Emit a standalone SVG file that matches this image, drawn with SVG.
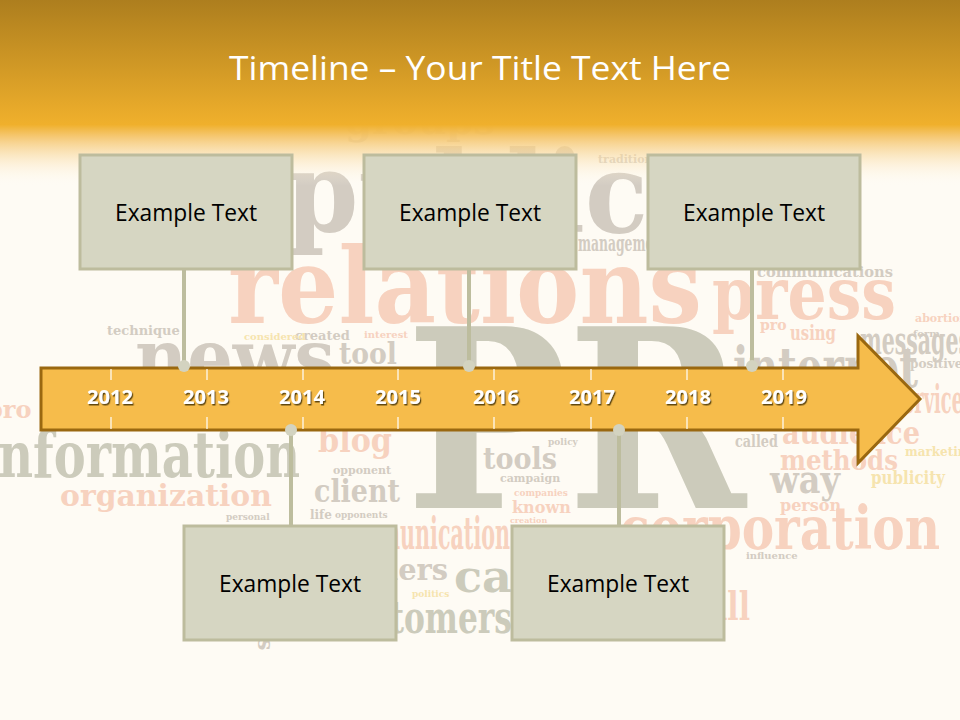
<svg xmlns="http://www.w3.org/2000/svg" width="960" height="720" viewBox="0 0 960 720">
<defs>
<linearGradient id="hdr" x1="0" y1="0" x2="0" y2="1">
<stop offset="0" stop-color="#AD7E1E"/>
<stop offset="0.67" stop-color="#F0B02C"/>
<stop offset="0.74" stop-color="#F5C66E" stop-opacity="0.92"/>
<stop offset="1" stop-color="#FFFBF3" stop-opacity="0"/>
</linearGradient>
<filter id="sh" x="-20%" y="-20%" width="140%" height="150%">
<feDropShadow dx="1.2" dy="1.5" stdDeviation="0.6" flood-color="#3a2a00" flood-opacity="0.8"/>
</filter>
<style>
.wc{font-family:"DejaVu Serif",serif;font-weight:bold}
.g{fill:#D3CCC2}
.g2{fill:#CCCBBB}
.s{fill:#F7D2BF}
.y{fill:#F6E4AE}
.box{fill:#D6D6C2;stroke:#BDBC9D;stroke-width:3}
.bt{font-family:"Open Sans","Liberation Sans",sans-serif;font-size:23px;fill:#000;text-anchor:middle}
.yr{font-family:"Open Sans","Liberation Sans",sans-serif;font-size:19px;font-weight:bold;fill:#FFFFFF;text-anchor:middle;filter:url(#sh)}
.tick{stroke:#FFFFFF;stroke-width:1.2}
.ln{stroke:#BDBD9E;stroke-width:4;fill:none}
.dot{fill:#D3D3C0}
</style>
</defs>
<rect x="0" y="0" width="960" height="720" fill="#FEFBF4"/>
<g id="wordcloud" class="wc">
<text x="345" y="134" font-size="40" class="g" textLength="150" lengthAdjust="spacingAndGlyphs">groups</text>
<text x="598" y="163" font-size="11" class="g">traditional</text>
<text x="286" y="232" font-size="112" class="g" textLength="362" lengthAdjust="spacingAndGlyphs">public</text>
<text x="578" y="251" font-size="22" class="g" textLength="90" lengthAdjust="spacingAndGlyphs">management</text>
<text x="228" y="323" font-size="104" class="s" textLength="474" lengthAdjust="spacingAndGlyphs">relations</text>
<text x="712" y="319" font-size="72" class="s" textLength="184" lengthAdjust="spacingAndGlyphs">press</text>
<text x="757" y="277" font-size="14" class="g" textLength="136" lengthAdjust="spacingAndGlyphs">communications</text>
<text x="107" y="335" font-size="13" class="g">technique</text>
<text x="295" y="340" font-size="13" class="g">created</text>
<text x="244" y="340" font-size="10" class="y">considered</text>
<text x="364" y="338" font-size="10" class="s">interest</text>
<text x="135" y="384" font-size="76" class="g" textLength="200" lengthAdjust="spacingAndGlyphs">news</text>
<text x="339" y="364" font-size="30" class="g" textLength="58" lengthAdjust="spacingAndGlyphs">tool</text>
<text x="790" y="340" font-size="20" class="s" textLength="46" lengthAdjust="spacingAndGlyphs">using</text>
<text x="760" y="330" font-size="14" class="s">pro</text>
<text x="860" y="354" font-size="40" class="g" textLength="110" lengthAdjust="spacingAndGlyphs">messages</text>
<text x="733" y="387" font-size="56" class="g" textLength="185" lengthAdjust="spacingAndGlyphs">internet</text>
<text x="910" y="368" font-size="12" class="g">positive</text>
<text x="893" y="413" font-size="40" class="s" textLength="80" lengthAdjust="spacingAndGlyphs">services</text>
<text x="-14" y="418" font-size="24" class="s">pro</text>
<text x="406" y="508" font-size="250" class="g2" textLength="340" lengthAdjust="spacingAndGlyphs" fill="#CBC7BB">PR</text>
<text x="-20" y="477" font-size="64" class="g2" textLength="320" lengthAdjust="spacingAndGlyphs">information</text>
<text x="60" y="506" font-size="30" class="s" textLength="212" lengthAdjust="spacingAndGlyphs">organization</text>
<text x="226" y="520" font-size="9" class="g">personal</text>
<text x="318" y="452" font-size="34" class="s" textLength="74" lengthAdjust="spacingAndGlyphs">blog</text>
<text x="333" y="474" font-size="11" class="g">opponent</text>
<text x="314" y="502" font-size="32" class="g" textLength="86" lengthAdjust="spacingAndGlyphs">client</text>
<text x="310" y="519" font-size="12" class="g">life</text>
<text x="335" y="518" font-size="9" class="g">opponents</text>
<text x="483" y="469" font-size="30" class="g" textLength="74" lengthAdjust="spacingAndGlyphs">tools</text>
<text x="548" y="445" font-size="9" class="g">policy</text>
<text x="500" y="482" font-size="11" class="g">campaign</text>
<text x="514" y="496" font-size="9" class="s">companies</text>
<text x="512" y="513" font-size="16" class="s">known</text>
<text x="510" y="523" font-size="8" class="s">creation</text>
<text x="330" y="549" font-size="44" class="s" textLength="180" lengthAdjust="spacingAndGlyphs" fill="#F8D8C0">communication</text>
<text x="330" y="580" font-size="30" class="g" textLength="118" lengthAdjust="spacingAndGlyphs">leaders</text>
<text x="412" y="597" font-size="9" class="y">politics</text>
<text x="454" y="592" font-size="44" class="g2" textLength="58" lengthAdjust="spacingAndGlyphs">ca</text>
<text x="330" y="633" font-size="44" class="g2" textLength="182" lengthAdjust="spacingAndGlyphs">customers</text>
<text x="258" y="662" font-size="22" class="g" transform="rotate(90 270 650)">s</text>
<text x="708" y="620" font-size="40" class="s" textLength="42" lengthAdjust="spacingAndGlyphs">all</text>
<text x="620" y="549" font-size="60" class="s" textLength="320" lengthAdjust="spacingAndGlyphs">corporation</text>
<text x="746" y="559" font-size="10" class="g">influence</text>
<text x="735" y="447" font-size="17" class="g" textLength="43" lengthAdjust="spacingAndGlyphs">called</text>
<text x="782" y="444" font-size="32" class="s" textLength="138" lengthAdjust="spacingAndGlyphs">audience</text>
<text x="780" y="470" font-size="28" class="s" textLength="118" lengthAdjust="spacingAndGlyphs">methods</text>
<text x="905" y="456" font-size="12" class="y">marketing</text>
<text x="770" y="493" font-size="40" class="g" textLength="70" lengthAdjust="spacingAndGlyphs">way</text>
<text x="871" y="484" font-size="18" class="y" textLength="74" lengthAdjust="spacingAndGlyphs">publicity</text>
<text x="780" y="511" font-size="16" class="s">person</text>
<text x="915" y="322" font-size="11" class="s">abortion</text>
<text x="913" y="337" font-size="10" class="g">form</text>
</g>
<rect id="header" x="0" y="0" width="960" height="186" fill="url(#hdr)"/>
<text id="title" x="480" y="80" font-family="Open Sans, Liberation Sans, sans-serif" font-size="33" fill="#FFFFFF" text-anchor="middle" textLength="502" lengthAdjust="spacingAndGlyphs">Timeline – Your Title Text Here</text>
<g id="connectors">
<line class="ln" x1="184" y1="269" x2="184" y2="366"/>
<line class="ln" x1="469" y1="269" x2="469" y2="366"/>
<line class="ln" x1="752" y1="269" x2="752" y2="366"/>
<line class="ln" x1="291" y1="430" x2="291" y2="526"/>
<line class="ln" x1="619" y1="430" x2="619" y2="526"/>
</g>
<g id="arrow">
<path d="M41 368 L858 368 L858 336 L920 399 L858 463 L858 430 L41 430 Z" fill="#F6BC4B" stroke="#9A6810" stroke-width="3" stroke-linejoin="miter"/>
<g class="tick">
<line x1="111" y1="369" x2="111" y2="380"/><line x1="111" y1="417" x2="111" y2="429"/>
<line x1="207" y1="369" x2="207" y2="380"/><line x1="207" y1="417" x2="207" y2="429"/>
<line x1="303" y1="369" x2="303" y2="380"/><line x1="303" y1="417" x2="303" y2="429"/>
<line x1="398" y1="369" x2="398" y2="380"/><line x1="398" y1="417" x2="398" y2="429"/>
<line x1="494" y1="369" x2="494" y2="380"/><line x1="494" y1="417" x2="494" y2="429"/>
<line x1="591" y1="369" x2="591" y2="380"/><line x1="591" y1="417" x2="591" y2="429"/>
<line x1="687" y1="369" x2="687" y2="380"/><line x1="687" y1="417" x2="687" y2="429"/>
<line x1="783" y1="369" x2="783" y2="380"/><line x1="783" y1="417" x2="783" y2="429"/>
</g>
<text class="yr" x="110" y="404" textLength="46" lengthAdjust="spacingAndGlyphs">2012</text>
<text class="yr" x="206" y="404" textLength="46" lengthAdjust="spacingAndGlyphs">2013</text>
<text class="yr" x="302" y="404" textLength="46" lengthAdjust="spacingAndGlyphs">2014</text>
<text class="yr" x="398" y="404" textLength="46" lengthAdjust="spacingAndGlyphs">2015</text>
<text class="yr" x="496" y="404" textLength="46" lengthAdjust="spacingAndGlyphs">2016</text>
<text class="yr" x="592" y="404" textLength="46" lengthAdjust="spacingAndGlyphs">2017</text>
<text class="yr" x="688" y="404" textLength="46" lengthAdjust="spacingAndGlyphs">2018</text>
<text class="yr" x="784" y="404" textLength="46" lengthAdjust="spacingAndGlyphs">2019</text>
</g>
<g id="dots">
<circle class="dot" cx="184" cy="366" r="6"/>
<circle class="dot" cx="469" cy="366" r="6"/>
<circle class="dot" cx="752" cy="366" r="6"/>
<circle class="dot" cx="291" cy="430" r="6"/>
<circle class="dot" cx="619" cy="430" r="6"/>
</g>
<g id="box1"><rect class="box" x="80" y="155" width="212" height="114"/><text class="bt" x="186" y="221" textLength="142" lengthAdjust="spacingAndGlyphs">Example Text</text></g>
<g id="box2"><rect class="box" x="364" y="155" width="212" height="114"/><text class="bt" x="470" y="221" textLength="142" lengthAdjust="spacingAndGlyphs">Example Text</text></g>
<g id="box3"><rect class="box" x="648" y="155" width="212" height="114"/><text class="bt" x="754" y="221" textLength="142" lengthAdjust="spacingAndGlyphs">Example Text</text></g>
<g id="box4"><rect class="box" x="184" y="526" width="212" height="114"/><text class="bt" x="290" y="592" textLength="142" lengthAdjust="spacingAndGlyphs">Example Text</text></g>
<g id="box5"><rect class="box" x="512" y="526" width="212" height="114"/><text class="bt" x="618" y="592" textLength="142" lengthAdjust="spacingAndGlyphs">Example Text</text></g>
</svg>
